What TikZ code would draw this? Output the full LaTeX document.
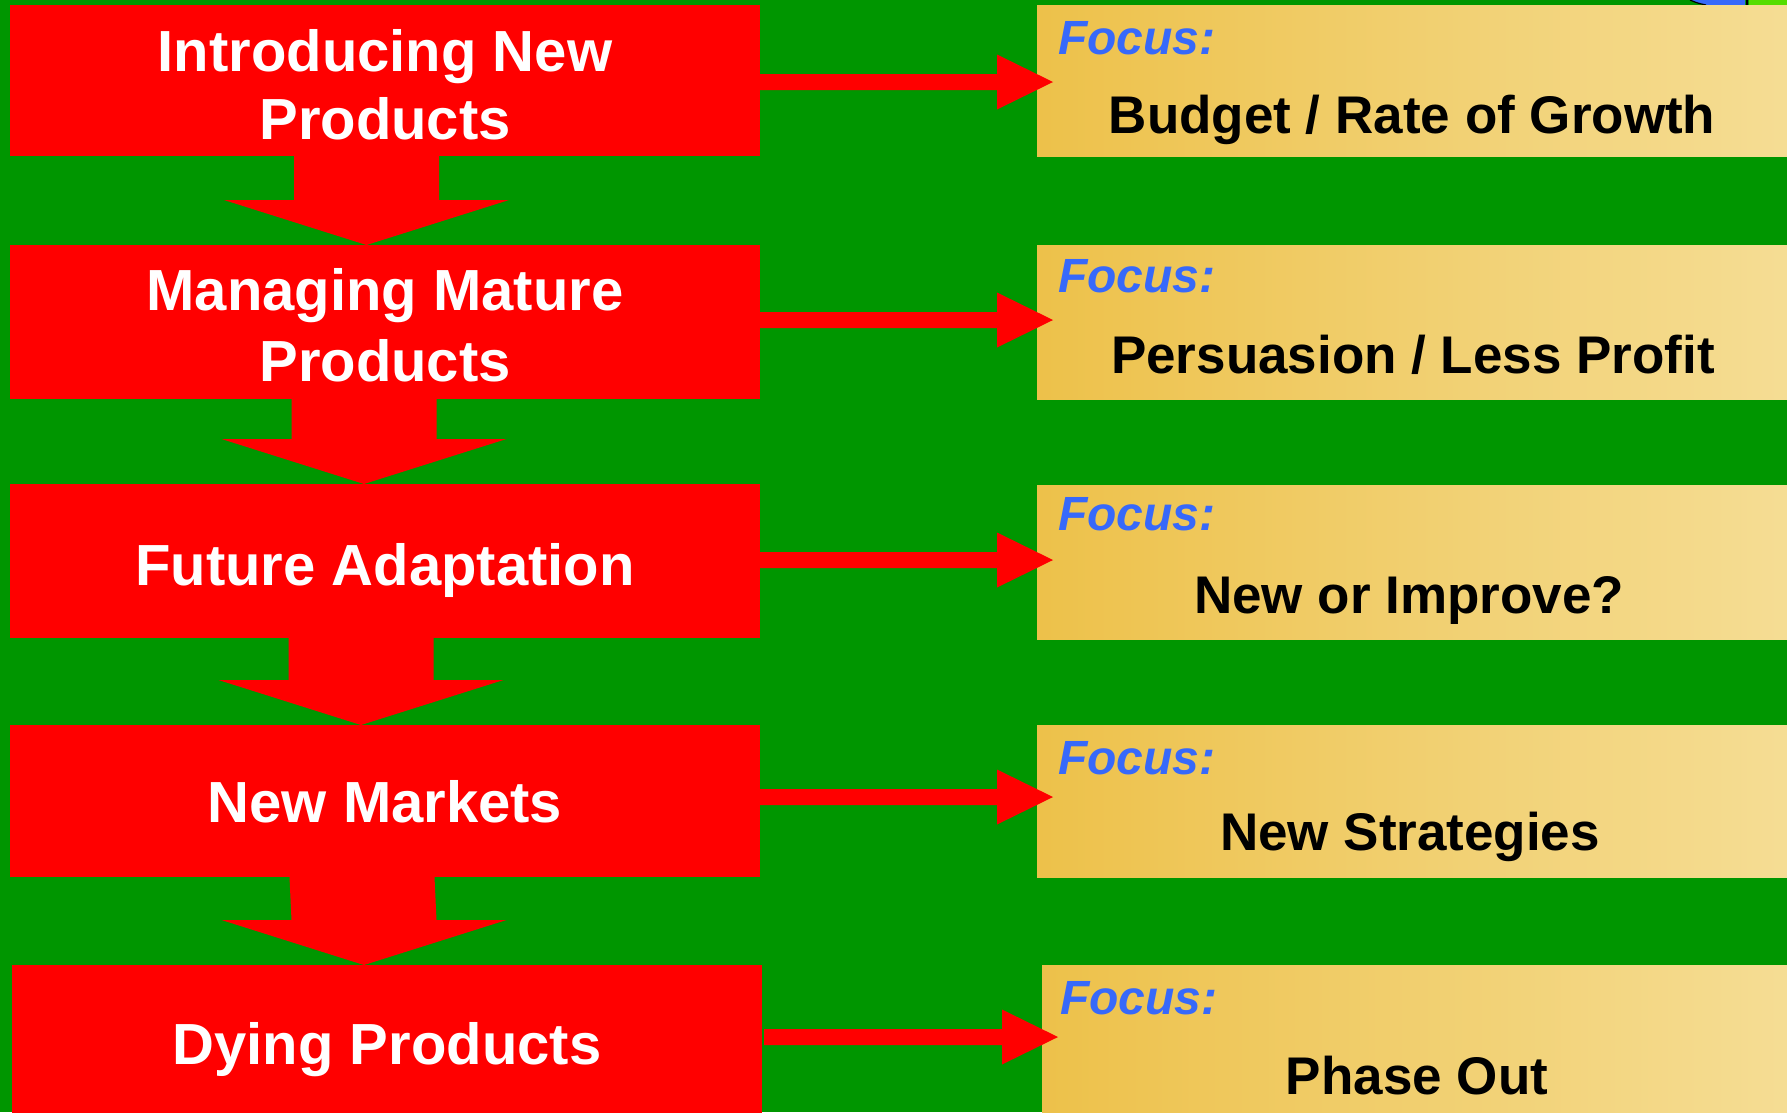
\documentclass[tikz,border=0pt]{standalone}
\usepackage{fontspec}
\setmainfont{Liberation Sans}
\usetikzlibrary{calc}
\definecolor{bggreen}{RGB}{0,150,0}
\definecolor{focusblue}{RGB}{55,105,250}
\definecolor{goldL}{RGB}{237,193,74}
\definecolor{goldR}{RGB}{245,221,148}
\definecolor{limegreen}{RGB}{85,221,0}
\definecolor{decoblue}{RGB}{55,105,250}
\newcommand\blockdown[3]{%
  \coordinate (S) at ($(#1.south)+(#3,0)$);
  \coordinate (E) at ($(#2.north)+(#3,0)$);
  \fill[red] ($(S)+(-72.5,0)$) -- ($(E)+(-72.5,-45)$) -- ($(E)+(-142.5,-45)$) -- (E)
     -- ($(E)+(142.5,-45)$) -- ($(E)+(72.5,-45)$) -- ($(S)+(72.5,0)$) -- cycle;}
\newcommand\blockright[4]{% from, to, y offset, start gap
  \coordinate (S) at ($(#1.east)+(#4,#3)$);
  \coordinate (E) at ($(#2.west |- S)+(16,0)$);
  \fill[red] ($(S)+(0,-8)$) -- ($(E)+(-56,-8)$) -- ($(E)+(-56,-27.5)$) -- (E)
     -- ($(E)+(-56,27.5)$) -- ($(E)+(-56,8)$) -- ($(S)+(0,8)$) -- cycle;}
\begin{document}
\begin{tikzpicture}[x=1pt,y=-1pt,
  redbox/.style={fill=red, draw=none, minimum width=750pt, inner sep=0pt, outer sep=0pt, anchor=north west},
  focusbox/.style={left color=goldL, right color=goldR, draw=none, minimum width=750pt, inner sep=0pt, outer sep=0pt, anchor=north west},
  wtext/.style={text=white, font=\fontsize{58}{70}\selectfont\bfseries, inner sep=0pt, anchor=base},
  ftext/.style={text=focusblue, font=\fontsize{48}{58}\selectfont\bfseries\itshape, inner sep=0pt, anchor=base west},
  btext/.style={text=black, font=\fontsize{53}{64}\selectfont\bfseries, inner sep=0pt, anchor=base}]
\useasboundingbox (0,0) rectangle (1787,1112);
\clip (0,0) rectangle (1787,1112);
\fill[bggreen] (0,0) rectangle (1787,1112);
% top-right decoration
\fill[limegreen] (1749,0) rectangle (1787,5);
\fill[decoblue] (1690,0) .. controls (1697,3) .. (1706,5) -- (1745,5) -- (1745,0) -- cycle;
\draw[black, line width=1.2pt] (1690,0) .. controls (1697,3) .. (1706,5);
\draw[black, line width=2pt] (1747,0) -- (1747,5);
% left column
\node[redbox, minimum height=151pt] (b1) at (10,5) {};
\node[redbox, minimum height=154pt] (b2) at (10,245) {};
\node[redbox, minimum height=154pt] (b3) at (10,484) {};
\node[redbox, minimum height=152pt] (b4) at (10,725) {};
\node[redbox, minimum height=152pt] (b5) at (12,965) {};
% right column
\node[focusbox, minimum height=151pt] (f1) at (1037,5) {};
\node[focusbox, minimum height=154pt] (f2) at (1037,245) {};
\node[focusbox, minimum height=154pt] (f3) at (1037,485) {};
\node[focusbox, minimum height=152pt] (f4) at (1037,725) {};
\node[focusbox, minimum height=152pt, minimum width=745pt] (f5) at (1042,965) {};
% down arrows
\blockdown{b1}{b2}{-18.5}
\blockdown{b2}{b3}{-21}
\blockdown{b3}{b4}{-24}
\blockdown{b4}{b5}{-23}
% right arrows
\blockright{b1}{f1}{1.5}{0}
\blockright{b2}{f2}{-2}{0}
\blockright{b3}{f3}{-1}{0}
\blockright{b4}{f4}{-4}{0}
\blockright{b5}{f5}{-4}{2}
% texts in red boxes
\node[wtext] (t1a) at (385,71) {Introducing New};
\node[wtext] (t1b) at (385,139) {Products};
\node[wtext] (t2a) at (385,310) {Managing Mature};
\node[wtext] (t2b) at (385,381) {Products};
\node[wtext] (t3) at (385,585) {Future Adaptation};
\node[wtext] (t4) at (385,822) {New Markets};
\node[wtext] (t5) at (387,1064) {Dying Products};
% focus texts
\node[ftext] (l1) at (1058,54) {Focus:};
\node[ftext] (l2) at (1058,292) {Focus:};
\node[ftext] (l3) at (1058,530) {Focus:};
\node[ftext] (l4) at (1058,774) {Focus:};
\node[ftext] (l5) at (1060,1014) {Focus:};
\node[btext] (d1) at (1412,133) {Budget / Rate of Growth};
\node[btext] (d2) at (1413,373) {Persuasion / Less Profit};
\node[btext] (d3) at (1409,613) {New or Improve?};
\node[btext] (d4) at (1410,850) {New Strategies};
\node[btext] (d5) at (1417,1094) {Phase Out};
\end{tikzpicture}
\end{document}
